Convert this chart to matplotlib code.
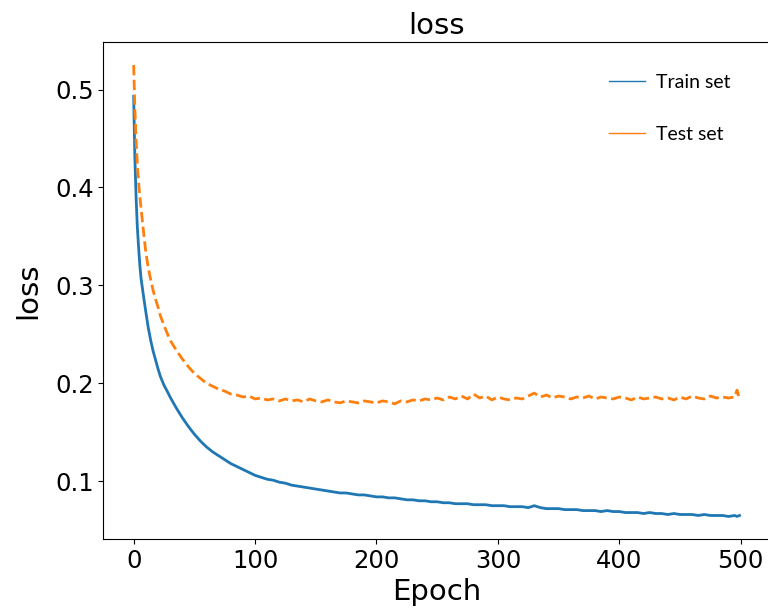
import numpy as np
import matplotlib
matplotlib.use("Agg")
import matplotlib.pyplot as plt
from matplotlib.lines import Line2D

#%% Data
epochs = [0, 1, 2, 3, 4, 5, 6, 8, 10, 12, 14, 16, 18, 20, 22, 25, 28, 30,
          35, 40, 45, 50, 55, 60, 65, 70, 75, 80, 85, 90, 95, 100,
          105, 110, 115, 120, 125, 130, 135, 140, 145, 150, 155, 160, 165, 170,
          175, 180, 185, 190, 195, 200, 205, 210, 215, 220, 225, 230, 235, 240,
          245, 250, 255, 260, 265, 270, 275, 280, 285, 290, 295, 300, 305, 310,
          315, 320, 325, 330, 335, 340, 345, 350, 355, 360, 365, 370, 375, 380,
          385, 390, 395, 400, 405, 410, 415, 420, 425, 430, 435, 440, 445, 450,
          455, 460, 465, 470, 475, 480, 485, 490, 495, 497, 499]

train_loss = [0.493, 0.430, 0.390, 0.360, 0.340, 0.322, 0.308, 0.290, 0.273, 0.257,
              0.244, 0.233, 0.224, 0.215, 0.207, 0.198, 0.191, 0.186,
              0.175, 0.165, 0.156, 0.148, 0.141, 0.135, 0.130, 0.126, 0.122, 0.118,
              0.115, 0.112, 0.109, 0.106,
              0.104, 0.102, 0.101, 0.099, 0.098, 0.096, 0.095, 0.094, 0.093, 0.092,
              0.091, 0.090, 0.089, 0.088,
              0.088, 0.087, 0.086, 0.086, 0.085, 0.084, 0.084, 0.083, 0.083, 0.082,
              0.081, 0.081, 0.080, 0.080,
              0.079, 0.079, 0.078, 0.078, 0.077, 0.077, 0.077, 0.076, 0.076, 0.076,
              0.075, 0.075, 0.075, 0.074,
              0.074, 0.074, 0.073, 0.075, 0.073, 0.072, 0.072, 0.072, 0.071, 0.071,
              0.071, 0.070, 0.070, 0.070,
              0.069, 0.070, 0.069, 0.069, 0.068, 0.068, 0.068, 0.067, 0.068, 0.067,
              0.067, 0.066, 0.067, 0.066,
              0.066, 0.066, 0.065, 0.066, 0.065, 0.065, 0.065, 0.064, 0.065, 0.064, 0.065]

test_loss = [0.525, 0.480, 0.448, 0.424, 0.406, 0.392, 0.380, 0.356, 0.334, 0.318,
             0.306, 0.295, 0.286, 0.278, 0.269, 0.259, 0.250, 0.244,
             0.234, 0.225, 0.217, 0.210, 0.205, 0.200, 0.197, 0.194, 0.192, 0.189,
             0.188, 0.186, 0.187, 0.184,
             0.185, 0.183, 0.184, 0.182, 0.184, 0.182, 0.183, 0.181, 0.184, 0.182,
             0.181, 0.183, 0.181, 0.180,
             0.182, 0.181, 0.180, 0.182, 0.181, 0.180, 0.182, 0.181, 0.179, 0.182,
             0.181, 0.183, 0.182, 0.184,
             0.183, 0.185, 0.183, 0.186, 0.184, 0.187, 0.184, 0.189, 0.185, 0.187,
             0.183, 0.186, 0.184, 0.183,
             0.185, 0.184, 0.187, 0.190, 0.186, 0.188, 0.185, 0.187, 0.186, 0.184,
             0.186, 0.185, 0.187, 0.184,
             0.186, 0.185, 0.184, 0.186, 0.185, 0.183, 0.186, 0.184, 0.185, 0.186,
             0.184, 0.185, 0.183, 0.186,
             0.184, 0.187, 0.185, 0.184, 0.187, 0.185, 0.186, 0.185, 0.186, 0.193, 0.184]

labels = ["Train set", "Test set"]

assert len(epochs) == len(train_loss) == len(test_loss)

#%% Plot
fig = plt.figure(figsize=(7.68, 6.14), dpi=100)
ax = fig.add_axes([0.1346, 0.1221, 0.8677, 0.8087])

ax.plot(epochs, train_loss, color="C0", linewidth=2)
ax.plot(epochs, test_loss, color="C1", linewidth=2, linestyle="--")

ax.set_title("loss", fontsize=21)
ax.set_xlabel("Epoch", fontsize=21)
ax.set_ylabel("loss", fontsize=21, labelpad=9)
ax.tick_params(labelsize=17.5)
ax.set_yticks([0.1, 0.2, 0.3, 0.4, 0.5])

handles = [Line2D([], [], color="C0", linewidth=1),
           Line2D([], [], color="C1", linewidth=1)]
ax.legend(handles, labels, loc="upper left", bbox_to_anchor=(0.759, 0.937),
          frameon=False, borderpad=0, borderaxespad=0, handlelength=1.85,
          handletextpad=0.55, labelspacing=1.8,
          prop={"family": "Lato", "size": 14})

plt.savefig("out.png", dpi=100)
